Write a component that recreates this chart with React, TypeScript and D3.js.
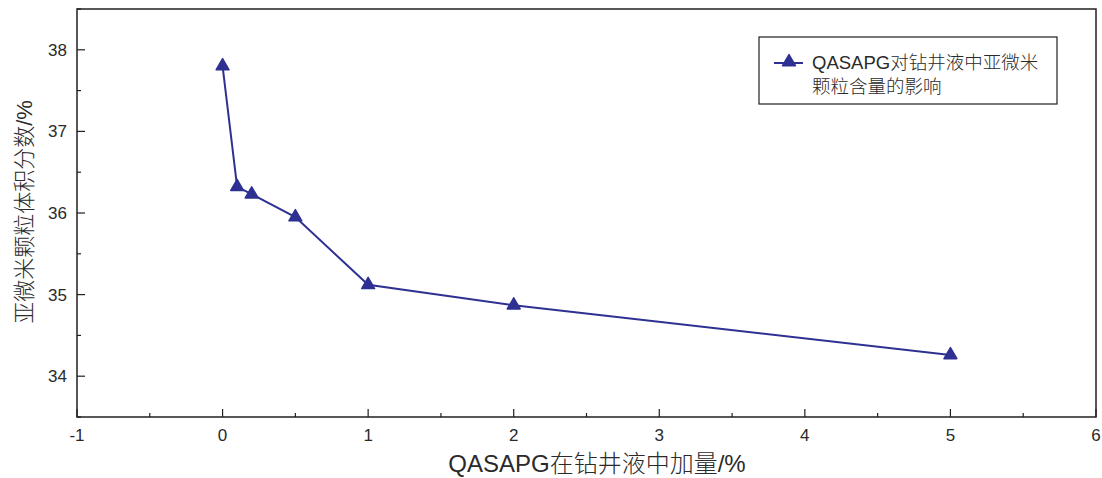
import React from "react";
import * as d3 from "d3";

const xValues = [0, 0.1, 0.2, 0.5, 1, 2, 5];
const yValues = [37.8, 36.32, 36.23, 35.95, 35.12, 34.87, 34.26];
const xTicks = [-1, 0, 1, 2, 3, 4, 5, 6];
const yTicks = [34, 35, 36, 37, 38];
const xMinorTicks = [-0.5, 0.5, 1.5, 2.5, 3.5, 4.5, 5.5];
const yMinorTicks = [33.5, 34.5, 35.5, 36.5, 37.5, 38.5];
const seriesName = ["QASAPG对钻井液中亚微米", "颗粒含量的影响"];
const xTitle = "QASAPG在钻井液中加量/%";
const yTitle = "亚微米颗粒体积分数/%";

const W = 1102, H = 478;
const L = 77, R = 1096, T = 9, B = 417;
const color = "#2E3192";
const axisColor = "#231F20";
const textColor = "#2a2a2a";
const font = "'Liberation Sans', Arial, 'Noto Sans CJK SC', sans-serif";

export default function App() {
  const x = d3.scaleLinear().domain([-1, 6]).range([L, R]);
  const y = d3.scaleLinear().domain([33.5, 38.5]).range([B, T]);
  const pts = xValues.map((v, i) => [x(v), y(yValues[i])] as [number, number]);
  const line = d3.line()(pts) || "";
  const tri = d3.symbol().type(d3.symbolTriangle).size(72)() || "";

  return (
    <svg width={W} height={H} style={{ position: "absolute", left: 0, top: 0, fontFamily: font }}>
      <rect x={0} y={0} width={W} height={H} fill="#fff" />
      <rect x={L} y={T} width={R - L} height={B - T} fill="none" stroke={axisColor} strokeWidth={1.5} />
      {yTicks.map((t) => (
        <g key={"y" + t}>
          <line x1={L} x2={L + 8} y1={y(t)} y2={y(t)} stroke={axisColor} strokeWidth={1.2} />
          <text x={L - 10} y={y(t)} dy="0.35em" textAnchor="end" fontSize={17} fill={textColor}>{t}</text>
        </g>
      ))}
      {yMinorTicks.map((t) => (
        <line key={"ym" + t} x1={L} x2={L + 4} y1={y(t)} y2={y(t)} stroke={axisColor} strokeWidth={1.2} />
      ))}
      {xTicks.map((t) => (
        <g key={"x" + t}>
          <line x1={x(t)} x2={x(t)} y1={B} y2={B - 8} stroke={axisColor} strokeWidth={1.2} />
          <text x={x(t)} y={B + 24} textAnchor="middle" fontSize={17} fill={textColor}>{t}</text>
        </g>
      ))}
      {xMinorTicks.map((t) => (
        <line key={"xm" + t} x1={x(t)} x2={x(t)} y1={B} y2={B - 4} stroke={axisColor} strokeWidth={1.2} />
      ))}
      <text x={597} y={472} textAnchor="middle" fontSize={24} fontWeight={300} fill={textColor}>{xTitle}</text>
      <text transform={`translate(32, 212) rotate(-90)`} textAnchor="middle" fontSize={22} fontWeight={300} fill={textColor}>{yTitle}</text>
      <path d={line} fill="none" stroke={color} strokeWidth={2} />
      {pts.map((p, i) => (
        <path key={i} d={tri} transform={`translate(${p[0]},${p[1]})`} fill={color} stroke={color} strokeWidth={1.5} strokeLinejoin="round" />
      ))}
      <rect x={759} y={37} width={298} height={67} fill="#fff" stroke={axisColor} strokeWidth={1.2} />
      <line x1={774} x2={803} y1={63} y2={63} stroke={color} strokeWidth={2} />
      <path d={tri} transform="translate(789,62)" fill={color} stroke={color} strokeWidth={1.5} strokeLinejoin="round" />
      <text x={812} y={69} fontSize={18.5} fontWeight={300} fill={textColor}>{seriesName[0]}</text>
      <text x={812} y={93} fontSize={18.5} fontWeight={300} fill={textColor}>{seriesName[1]}</text>
    </svg>
  );
}
